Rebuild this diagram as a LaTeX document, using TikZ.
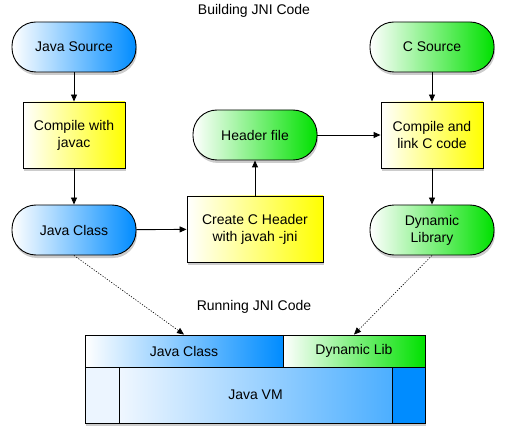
\documentclass[tikz,border=0pt]{standalone}
\usepackage{fontspec}
\setmainfont{Liberation Sans}
\usetikzlibrary{shadows,arrows.meta}
\definecolor{jblue}{RGB}{0,140,255}
\definecolor{jgreen}{RGB}{0,225,0}
\definecolor{jyellow}{RGB}{255,255,0}
\definecolor{jpale}{RGB}{236,245,255}
\begin{document}
\begin{tikzpicture}[x=1pt,y=-1pt,
  font=\fontsize{14}{17}\selectfont,
  shad/.style={drop shadow={shadow xshift=1pt,shadow yshift=-3pt,opacity=0.4}},
  pill/.style={draw=black, line width=0.9pt, rounded corners=24pt, minimum width=124pt, minimum height=50pt, align=center, shad},
  bluepill/.style={pill, left color=white, right color=jblue},
  greenpill/.style={pill, left color=white, right color=jgreen},
  procbox/.style={draw=black, line width=0.9pt, minimum width=102pt, minimum height=66pt, left color=white, right color=jyellow, align=center, shad},
  cell/.style={draw=black, line width=0.9pt, inner sep=0pt, anchor=center},
  arr/.style={-{Triangle[length=7pt,width=6pt]}, line width=0.9pt},
  dotarr/.style={-{Triangle[length=7pt,width=6pt]}, line width=0.6pt, dash pattern=on 1.2pt off 1.5pt}]
\useasboundingbox (0,0) rectangle (505,438);

\node (t1) at (254,11) {Building JNI Code};
\node (t2) at (254,307) {Running JNI Code};

\node[bluepill] (jsrc) at (74,47) {Java Source};
\node[procbox] (javac) at (74,135) {Compile with\\javac};
\node[bluepill] (jcls) at (74,230) {Java Class};
\node[procbox, minimum width=136pt] (hdr) at (255,229) {Create C Header\\with javah -jni};
\node[greenpill] (hfile) at (255,135) {Header file};
\node[greenpill] (csrc) at (432,47) {C Source};
\node[procbox] (clink) at (432,135) {Compile and\\link C code};
\node[greenpill] (dlib) at (432,230) {Dynamic\\Library};

% bar
\path[fill=white, shad] (85,335) rectangle (425,423);
\node[cell, minimum width=198pt, minimum height=32pt, left color=white, right color=jblue] (bjc) at (184,351) {Java Class};
\node[cell, minimum width=142pt, minimum height=32pt, left color=white, right color=jgreen] (bdl) at (354,351) {Dynamic Lib};
\node[cell, minimum width=34pt, minimum height=56pt, fill=jpale] (bvl) at (102,395) {};
\node[cell, minimum width=273pt, minimum height=56pt, left color=jpale!80!white, right color=jblue!70!white] (bvm) at (255.5,395) {Java VM};
\node[cell, minimum width=33pt, minimum height=56pt, fill=jblue] (bvr) at (408.5,395) {};

\draw[arr] (jsrc) -- (javac);
\draw[arr] (javac) -- (jcls);
\draw[arr] (jcls) -- (hdr);
\draw[arr] (hdr) -- (hfile);
\draw[arr] (hfile) -- (clink);
\draw[arr] (csrc) -- (clink);
\draw[arr] (clink) -- (dlib);
\draw[dotarr] (jcls.south) -- (bjc.north);
\draw[dotarr] (dlib.south) -- (bdl.north);
\end{tikzpicture}
\end{document}
